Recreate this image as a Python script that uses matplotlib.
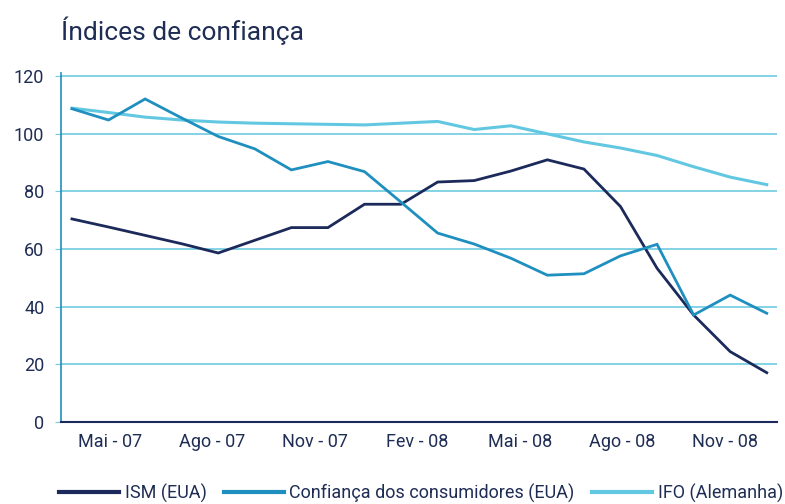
import matplotlib
matplotlib.use("Agg")
import matplotlib.pyplot as plt
import numpy as np

# Data (monthly, Apr 2007 - Nov 2008)
ism = [70.4, 67.6, 64.7, 61.8, 58.6, 63.0, 67.4, 67.4, 75.5, 75.5,
       83.2, 83.7, 87.0, 90.9, 87.7, 74.7, 53.3, 37.1, 24.4, 17.1]
confianca = [108.6, 104.7, 112.0, 105.4, 99.0, 94.7, 87.4, 90.3, 86.8, 76.2,
             65.5, 61.7, 56.8, 50.9, 51.4, 57.6, 61.6, 37.1, 44.0, 37.7]
ifo = [108.8, 107.3, 105.7, 104.7, 104.0, 103.6, 103.4, 103.2, 103.0, 103.6,
       104.2, 101.4, 102.7, 99.9, 97.1, 95.0, 92.4, 88.5, 84.9, 82.3]
tick_labels = ["Mai - 07", "Ago - 07", "Nov - 07", "Fev - 08", "Mai - 08", "Ago - 08", "Nov - 08"]
y_ticks = [0, 20, 40, 60, 80, 100, 120]
series_names = ["ISM (EUA)", "Confiança dos consumidores (EUA)", "IFO (Alemanha)"]

navy = "#1b2a5a"
mid = "#1f8fbf"
light = "#62c8e2"
grid_c = "#6fcbe2"
text_c = "#1f2d55"

plt.rcParams['font.family'] = ['Roboto', 'DejaVu Sans']

fig = plt.figure(figsize=(7.85, 5.04), dpi=100)
ax = fig.add_axes([61/785, 1-422/504, (777-61)/785, 349/504])

x = np.arange(len(ism))
ax.plot(x, ism, color=navy, lw=2.0, label=series_names[0], solid_joinstyle='miter', zorder=3)
ax.plot(x, confianca, color=mid, lw=2.0, label=series_names[1], solid_joinstyle='miter', zorder=3)
ax.plot(x, ifo, color=light, lw=2.2, label=series_names[2], zorder=2)

ax.set_xlim(-0.30, 19.28)
ax.set_ylim(0, 121)
ax.set_yticks(y_ticks)
ax.yaxis.grid(True, color=grid_c, lw=1.2)
ax.set_axisbelow(True)

ax.set_xticks(np.linspace(1.04, 17.86, len(tick_labels)))
ax.set_xticklabels(tick_labels)
ax.tick_params(axis='x', length=0, pad=8, labelsize=13, labelcolor=text_c)
ax.tick_params(axis='y', length=4, color=grid_c, pad=8, labelsize=13, labelcolor=text_c)

for s in ['top', 'right']:
    ax.spines[s].set_visible(False)
ax.spines['left'].set_color(mid)
ax.spines['left'].set_linewidth(1.2)
ax.spines['bottom'].set_color(navy)
ax.spines['bottom'].set_linewidth(1.5)

fig.text(61/785, 1-40/504, "Índices de confiança", fontsize=19, color=text_c, ha='left', va='baseline')

leg = fig.legend(loc='center', bbox_to_anchor=(421/785, 1-493/504), ncol=3, frameon=False,
                 fontsize=13, handlelength=3.33, handletextpad=0.3, columnspacing=0.97,
                 labelcolor=text_c)
for h in leg.get_lines():
    h.set_linewidth(3)

fig.savefig("out.png", dpi=100)
